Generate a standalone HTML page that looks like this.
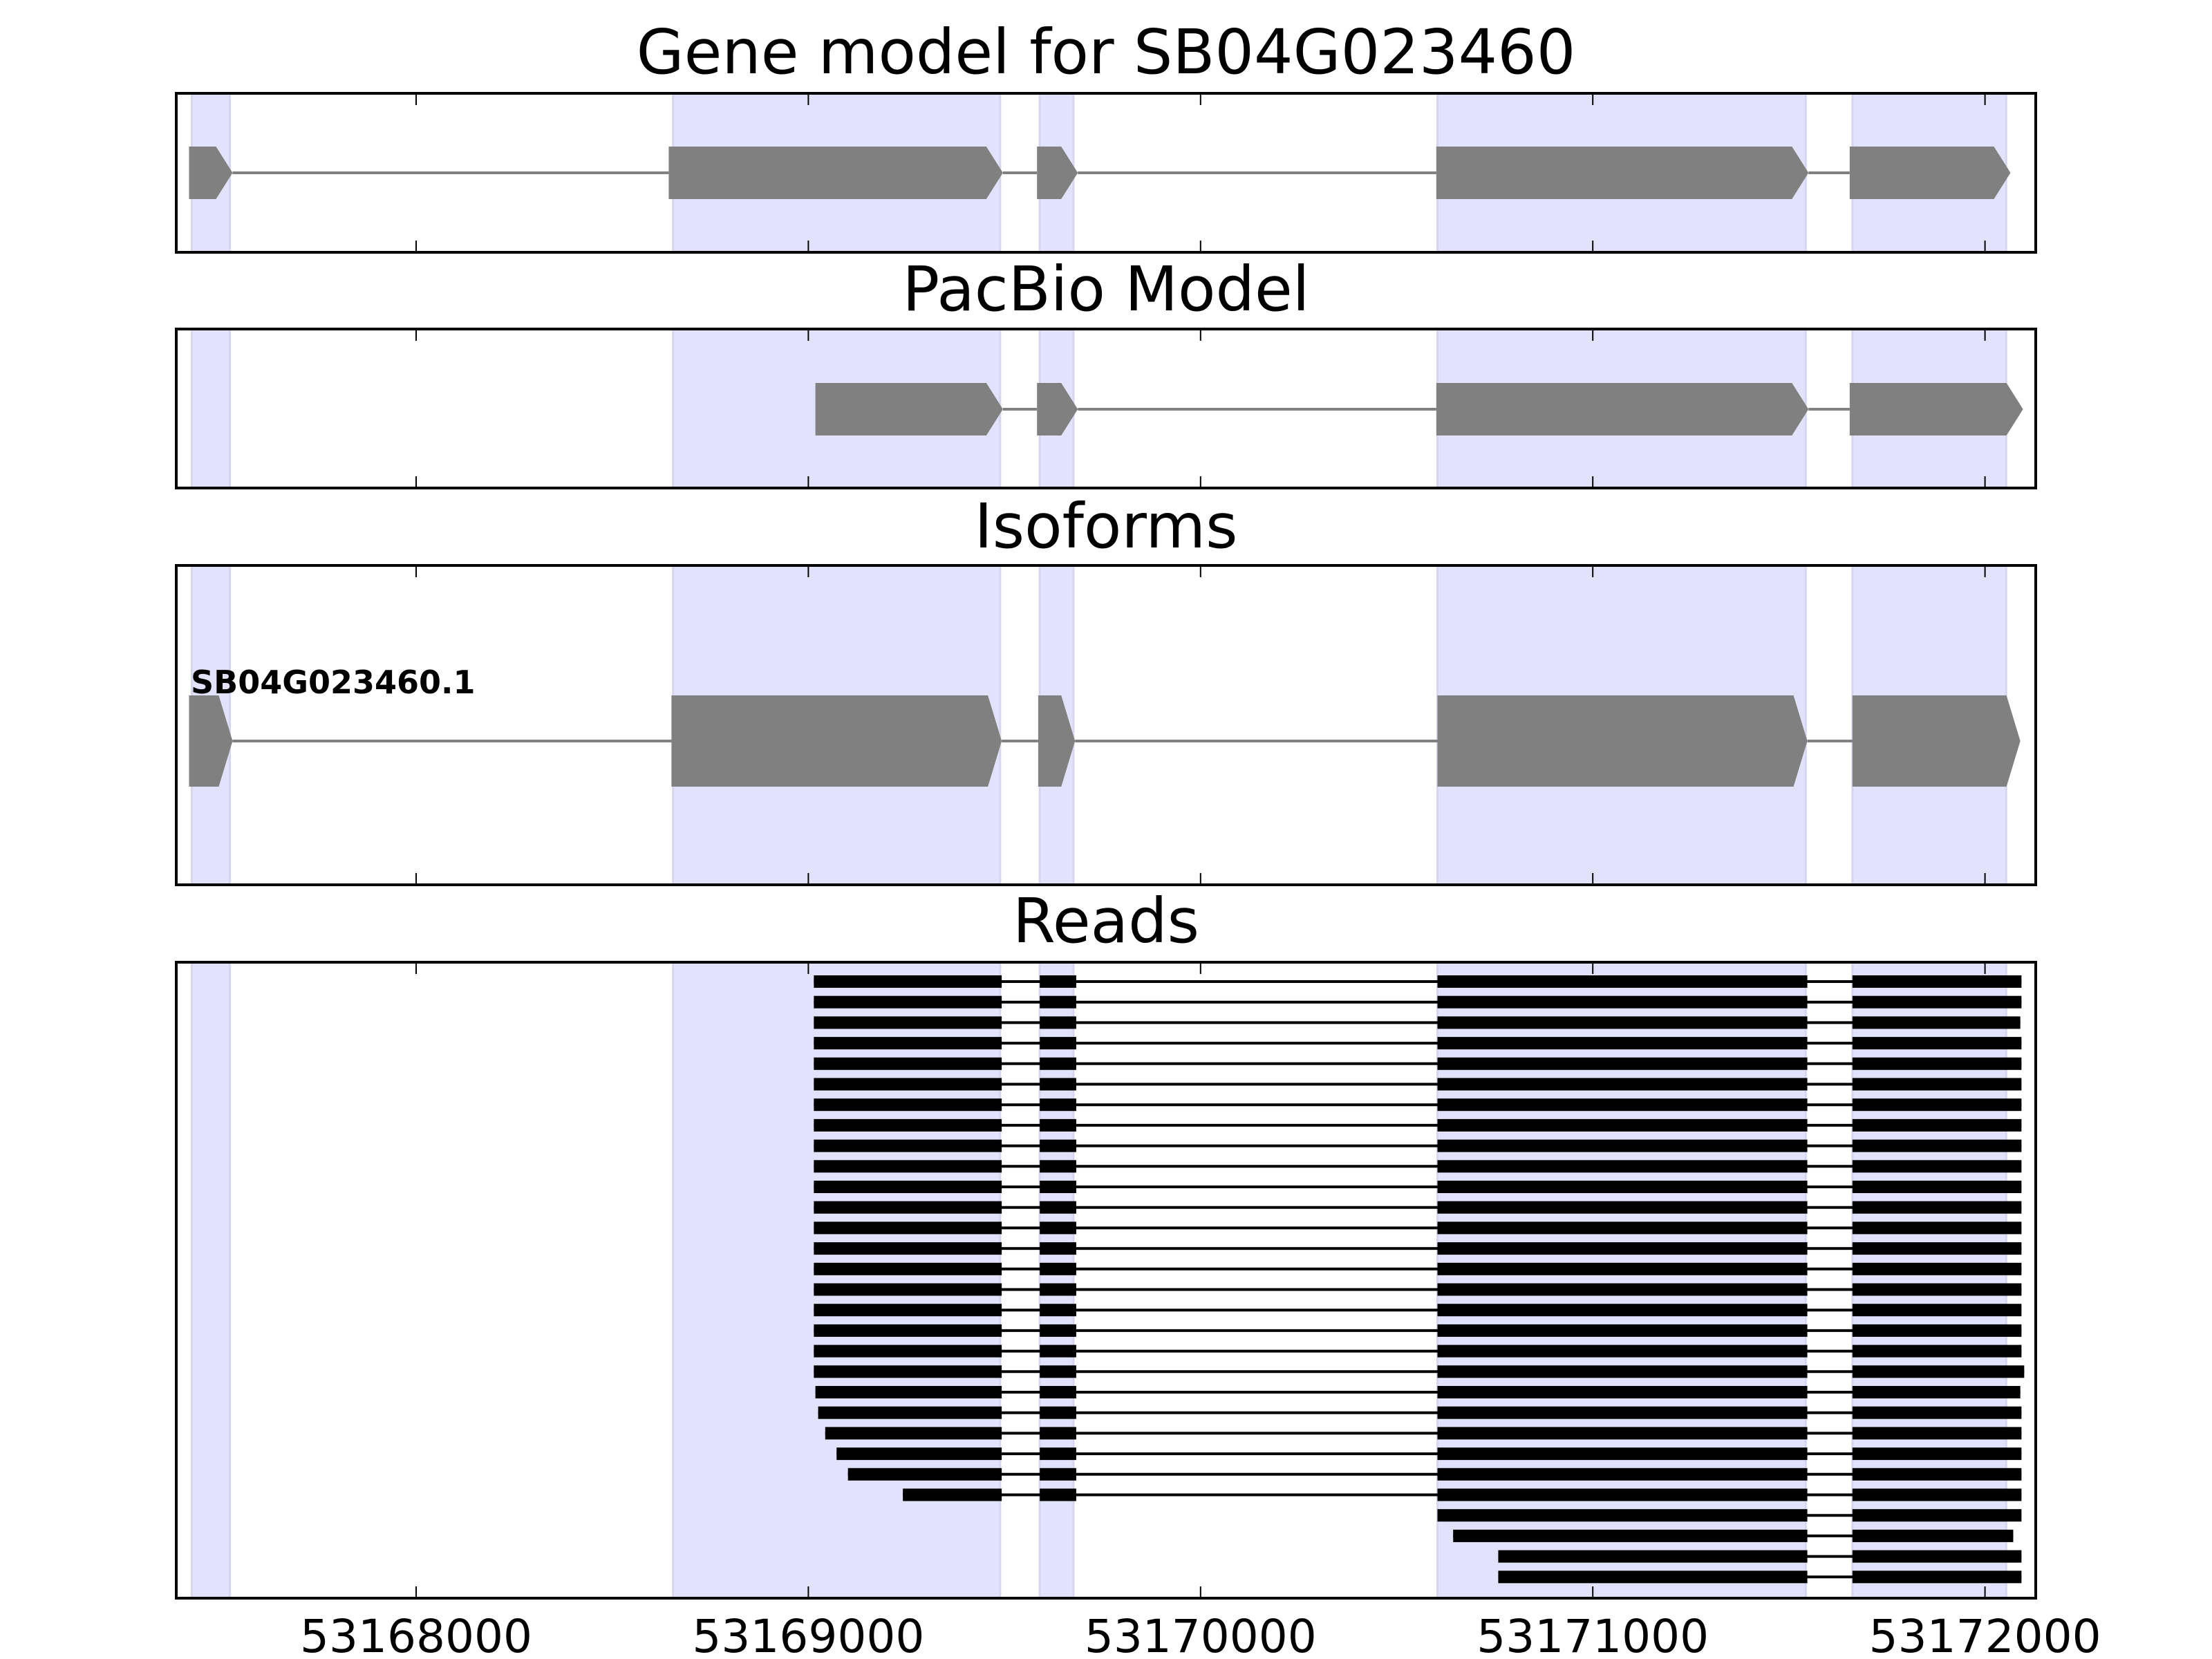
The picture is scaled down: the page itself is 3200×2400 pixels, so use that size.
<!DOCTYPE html>
<html><head><meta charset="utf-8"><style>
html,body{margin:0;padding:0;background:#fff;}
svg{display:block;font-family:"DejaVu Sans","Liberation Sans",sans-serif;}
</style></head><body>
<svg id="chart" width="3200" height="2400" viewBox="0 0 3200 2400" xmlns="http://www.w3.org/2000/svg"></svg>
<script>
// ---- data (genomic coordinates) ----
const tickValues = [53168000, 53169000, 53170000, 53171000, 53172000];
const tickLabels = ["53168000", "53169000", "53170000", "53171000", "53172000"];
const shadedRegions = [[53167428,53167525],[53168655,53169489],[53169590,53169676],[53170604,53171543],[53171662,53172054]];
const geneExons = [[53167421,53167532],[53168644,53169496],[53169583,53169687],[53170601,53171550],[53171655,53172065]];
const pacbioExons = [[53169018,53169496],[53169583,53169687],[53170601,53171550],[53171655,53172097]];
const isoformExons = [[53167421,53167532],[53168651,53169493],[53169586,53169680],[53170604,53171547],[53171662,53172090]];
const isoformName = "SB04G023460.1";
const readFirstStarts = [53169014,53169014,53169014,53169014,53169014,53169014,53169014,53169014,53169014,53169014,53169014,53169014,53169014,53169014,53169014,53169014,53169014,53169014,53169014,53169014,53169018,53169025,53169043,53169072,53169101,53169241,53170604,53170644,53170759,53170759];
const readLastEnds = [53172093,53172093,53172090,53172093,53172093,53172093,53172093,53172093,53172093,53172093,53172093,53172093,53172093,53172093,53172093,53172093,53172093,53172093,53172093,53172100,53172090,53172093,53172093,53172093,53172093,53172093,53172093,53172072,53172093,53172093];
const readMidExons = [[53169590,53169683],[53170604,53171547],[53171662,0]];
const titles = ["Gene model for SB04G023460","PacBio Model","Isoforms","Reads"];

// ---- layout ----
const NS="http://www.w3.org/2000/svg";
const svg=document.getElementById('chart');
const X0=255, X1=2945;
const xv=v=>602+(v-53168000)*0.5674;
const panels=[{t:135,b:365},{t:476,b:706},{t:818,b:1280},{t:1392,b:2312}];
const titleY=[106,449,792,1363];
function el(tag,attrs,parent){const e=document.createElementNS(NS,tag);for(const k in attrs)e.setAttribute(k,attrs[k]);(parent||svg).appendChild(e);return e;}

function exonArrow(g,s,e,cy,h,tip){
  const x1=xv(s),x2=xv(e);const t=Math.min(tip,(x2-x1)*0.6);
  const p=el('polygon',{points:`${x1},${cy-h} ${x2-t},${cy-h} ${x2},${cy} ${x2-t},${cy+h} ${x1},${cy+h}`,fill:'#808080'},g);
  
  
}
function drawModel(g,exons,cy,h,tip){
  for(let i=0;i<exons.length-1;i++){
    const ln=el('line',{x1:xv(exons[i][1]),x2:xv(exons[i+1][0]),y1:cy,y2:cy,stroke:'#808080','stroke-width':4},g);
    
    
  }
  exons.forEach(ex=>exonArrow(g,ex[0],ex[1],cy,h,tip));
}

panels.forEach((p,pi)=>{
  const g=el('g',{});
  
  
  const clip=el('clipPath',{id:'c'+pi},g);
  el('rect',{x:X0,y:p.t,width:X1-X0,height:p.b-p.t},clip);
  const inner=el('g',{'clip-path':`url(#c${pi})`},g);
  shadedRegions.forEach(r=>{
    const s=el('rect',{x:xv(r[0]),y:p.t,width:xv(r[1])-xv(r[0]),height:p.b-p.t,fill:'#e2e2fd',stroke:'#d6d6ee','stroke-width':3},inner);
    
    
  });
  if(pi===0) drawModel(inner,geneExons,250,38,24);
  if(pi===1) drawModel(inner,pacbioExons,592,38,24);
  if(pi===2){
    drawModel(inner,isoformExons,1072,66,20);
    const lb=el('text',{x:276,y:1003,'font-size':46,'font-weight':'bold',fill:'#000'},g);
    lb.textContent=isoformName;
    
    
  }
  if(pi===3){
    readFirstStarts.forEach((st,i)=>{
      const cy=1420+i*29.7;
      let ex=[];
      if(st<readMidExons[1][0]){ex.push([st,53169493]);ex.push(readMidExons[0]);}
      ex.push([Math.max(st,readMidExons[1][0]),readMidExons[1][1]]);
      ex.push([readMidExons[2][0],readLastEnds[i]]);
      const rg=el('g',{},inner);
      
      
      el('line',{x1:xv(ex[0][0]),x2:xv(ex[ex.length-1][1]),y1:cy,y2:cy,stroke:'#000','stroke-width':4},rg);
      ex.forEach(e=>el('rect',{x:xv(e[0]),y:cy-9,width:xv(e[1])-xv(e[0]),height:18,fill:'#000'},rg));
    });
  }
  tickValues.forEach(v=>{
    el('line',{x1:xv(v),x2:xv(v),y1:p.t,y2:p.t+17,stroke:'#000','stroke-width':2},g);
    el('line',{x1:xv(v),x2:xv(v),y1:p.b,y2:p.b-17,stroke:'#000','stroke-width':2},g);
  });
  const fr=el('rect',{x:X0,y:p.t,width:X1-X0,height:p.b-p.t,fill:'none',stroke:'#000','stroke-width':4},g);
  
  
  const tt=el('text',{x:(X0+X1)/2,y:titleY[pi],'font-size':89,'text-anchor':'middle',fill:'#000'},g);
  tt.textContent=titles[pi];
  
  
});
tickValues.forEach((v,i)=>{
  const t=el('text',{x:xv(v),y:2390,'font-size':66,'text-anchor':'middle',fill:'#000'});
  t.textContent=tickLabels[i];
  
  
});
</script>
</body></html>
